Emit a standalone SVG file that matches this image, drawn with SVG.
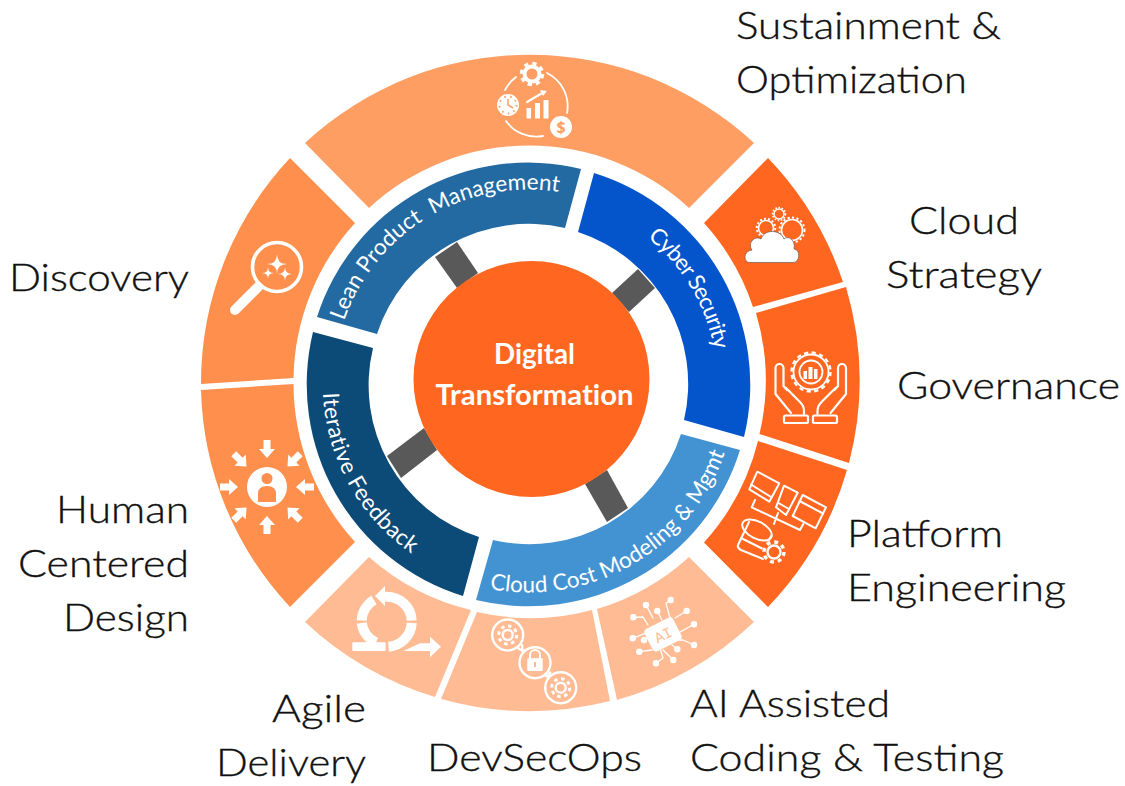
<svg xmlns="http://www.w3.org/2000/svg" width="1125" height="786" viewBox="0 0 1125 786">
<style>
.lbl{font-family:"Lato","Open Sans",sans-serif;font-size:37px;font-weight:300;fill:#111;stroke:#111;stroke-width:.35px}
.seg{font-family:"Lato","Open Sans",sans-serif;font-size:22.5px;fill:#fff;white-space:pre;font-variant-ligatures:none}
.ctr{font-family:"Lato","Open Sans",sans-serif;font-size:28px;font-weight:700;fill:#fff;font-variant-ligatures:none}
.wf{fill:#fff;stroke:none}
.wl{fill:none;stroke:#fff;stroke-width:2.2;stroke-linecap:round;stroke-linejoin:round}
.spoke{fill:#595959}
</style>
<defs>
<path id="ar" class="wf" d="M-3.5,-47H3.5V-38H8L0,-29L-8,-38H-3.5Z"/>
<path id="p1" d="M344.1,321A195,195 0 0 1 569,193.8"/>
<path id="p2" d="M647.5,237.6A189,189 0 0 1 716.8,368"/>
<path id="p3" d="M489.5,588.8A208,208 0 0 0 726.3,448.8"/>
<path id="p4" d="M323,393A205,205 0 0 0 415,556"/>
</defs>
<rect width="1125" height="786" fill="#fff"/>

<g id="connectors">
<polygon class="spoke" points="435,257 457,242 478,273 457,288"/>
<polygon class="spoke" points="612,293 638,269 655,288 629,312"/>
<polygon class="spoke" points="387,456 424,428 437,450 401,478"/>
<polygon class="spoke" points="585,484 607,470 628,508 607,522"/>
</g>

<g id="node-sustainment">
<path fill="#FF9E63" d="M305,143A329.5,329.5 0 0 1 754,143L689,208A236,236 0 0 0 369,208Z"/>
<circle cx="532" cy="74" r="7.5" fill="none" stroke="#fff" stroke-width="4"/>
<circle cx="532" cy="74" r="10.5" fill="none" stroke="#fff" stroke-width="3.5" stroke-dasharray="4.2 4.05"/>
<path class="wl" d="M505,90A37,37 0 0 1 516,77M547,73A37,37 0 0 1 567,113M506,121A37,37 0 0 0 543,136" style="stroke-width:1.8"/>
<circle class="wf" cx="508" cy="105" r="11"/>
<circle cx="508" cy="105" r="8.5" fill="none" stroke="#FF9E63" stroke-width="2" stroke-dasharray="1.5 4.5"/>
<path d="M508,99V105L513,108" fill="none" stroke="#FF9E63" stroke-width="1.5"/>
<rect class="wf" x="526.5" y="108" width="4.5" height="10.5"/>
<rect class="wf" x="535" y="103" width="5" height="15.5"/>
<rect class="wf" x="543.5" y="100" width="5" height="18.5"/>
<path class="wl" d="M527,102L544,92"/>
<polygon class="wf" points="547,91 540,90 543,96"/>
<circle class="wf" cx="561" cy="127" r="11"/>
<text x="561" y="133" text-anchor="middle" font-family="Open Sans,sans-serif" font-size="16" font-weight="700" fill="#FF9E63">$</text>
<text class="lbl" x="736" y="39" textLength="265" lengthAdjust="spacingAndGlyphs">Sustainment &amp;</text>
<text class="lbl" x="736" y="93" textLength="231" lengthAdjust="spacingAndGlyphs">Optimization</text>
</g>

<g id="node-cloud-strategy">
<path fill="#FF6720" d="M768,158A329.5,329.5 0 0 1 843,282L753,307A236,236 0 0 0 704,223Z"/>
<g fill="none" stroke="#fff">
<circle cx="766" cy="228" r="7.5" stroke-width="1.6"/>
<circle cx="766" cy="228" r="9.2" stroke-width="2" stroke-dasharray="2 2.1"/>
<circle cx="792" cy="230" r="10.5" stroke-width="1.6"/>
<circle cx="792" cy="230" r="12.5" stroke-width="2" stroke-dasharray="2.2 2.3"/>
<circle cx="779" cy="214" r="5" stroke-width="1.4"/>
<circle cx="779" cy="214" r="6.4" stroke-width="1.6" stroke-dasharray="1.6 1.6"/>
</g>
<path fill="#fff" stroke="#6b5a52" stroke-width=".7" d="M750,262.5H793C800,262.5 801,250 794,249C796,240 788,235 784,239C781,230 765,228 761,239C755,235 747,243 752,250C743,251 743,262.5 750,262.5Z"/>
<text class="lbl" x="909" y="234" textLength="110" lengthAdjust="spacingAndGlyphs">Cloud</text>
<text class="lbl" x="886" y="288" textLength="156" lengthAdjust="spacingAndGlyphs">Strategy</text>
</g>

<g id="node-governance">
<path fill="#FF6720" d="M756,313L846,287A329.5,329.5 0 0 1 849,463L759.5,434A236,236 0 0 0 756,313Z"/>
<circle cx="811" cy="372" r="17.5" fill="none" stroke="#fff" stroke-width="1.8"/>
<circle cx="811" cy="372" r="19.5" fill="none" stroke="#fff" stroke-width="2.4" stroke-dasharray="4.2 3.46"/>
<circle cx="811" cy="372" r="11.5" fill="none" stroke="#fff" stroke-width="1.8"/>
<rect class="wf" x="803.5" y="371" width="3.5" height="8"/><rect class="wf" x="808.5" y="367" width="4" height="12"/><rect class="wf" x="814" y="369" width="3.5" height="10"/>
<path class="wl" d="M775.5,368A4,4 0 0 1 783.5,368V386L787,390M786,388L800,402Q804,406 804,411V414M775.5,368V394L791,413"/>
<path class="wl" d="M846,368A4,4 0 0 0 838,368V386L834.5,390M835.5,388L821.5,402Q817.5,406 817.5,411V414M846,368V394L830.5,413"/>
<rect x="784" y="415.5" width="24" height="7.5" rx="1.5" class="wl"/>
<rect x="813" y="415.5" width="24" height="7.5" rx="1.5" class="wl"/>
<text class="lbl" x="897" y="399" textLength="223" lengthAdjust="spacingAndGlyphs">Governance</text>
</g>

<g id="node-platform">
<path fill="#FF6720" d="M758,441L847,470A329.5,329.5 0 0 1 768,607L704,542.5A236,236 0 0 0 758,441Z"/>
<g class="wl" style="stroke-width:2">
<polygon points="757.3,471.7 779.3,483.3 769.3,501.7 749.3,489.3"/>
<path d="M751,484.5L771,497"/>
<polygon points="784,485.7 797.7,492.7 786,515 776,507.3"/>
<path d="M778.5,503L788,508.5"/>
<polygon points="802.7,495 826,507.3 815.7,528.3 792.7,516"/>
<path d="M799.5,501L823,513.5"/>
<path d="M755,500L751.7,507.3L800,530L803.3,524M778,513L774,524"/>
<ellipse cx="757" cy="530" rx="16" ry="8.5" transform="rotate(27 757 530)"/>
<path d="M749,522L738,545Q737,548 741,550L763,559M741,538L763,549M771,536L767,544"/>
</g>
<circle cx="774" cy="552" r="12" fill="#FF6720"/>
<circle cx="774" cy="552" r="6.5" fill="none" stroke="#fff" stroke-width="2.4"/>
<circle cx="774" cy="552" r="10" fill="none" stroke="#fff" stroke-width="3.4" stroke-dasharray="3.9 3.95"/>
<text class="lbl" x="847" y="547" textLength="156" lengthAdjust="spacingAndGlyphs">Platform</text>
<text class="lbl" x="847" y="601" textLength="219" lengthAdjust="spacingAndGlyphs">Engineering</text>
</g>

<g id="node-ai">
<path fill="#FFBC94" d="M597,609A236,236 0 0 0 689,557L754,622A329.5,329.5 0 0 1 617,700Z"/>
<g class="wl" style="stroke-width:1.3">
<path d="M646,605L653,618M657.3,611L662,620M670.7,600L666,603.3L670,618M686.7,611L675,618M694,624.3L680,632M694,645L683,640L675,640M677.3,649.3L672,645M673.3,660L663,650M656,663.3L663,658L660,648M639.3,651.7L652,650M644,640L650,636.7M632.7,638.3L645,633.3M633.3,617.3L643,617L648,625"/>
</g>
<rect class="wf" x="647" y="622" width="32" height="25" rx="4" transform="rotate(-27 663 634.5)"/>
<text x="663" y="640" text-anchor="middle" font-family="Liberation Mono,monospace" font-size="15" fill="#FFBC94" transform="rotate(-27 663 634.5)">AI</text>
<g class="wf">
<circle cx="646" cy="605" r="3.2"/><circle cx="657.3" cy="611" r="3.2"/><circle cx="670.7" cy="600" r="3.2"/><circle cx="686.7" cy="611" r="3.2"/><circle cx="694" cy="624.3" r="3.2"/><circle cx="694" cy="645" r="3.2"/><circle cx="677.3" cy="649.3" r="3.2"/><circle cx="673.3" cy="660" r="3.2"/><circle cx="656" cy="663.3" r="3.2"/><circle cx="639.3" cy="651.7" r="3.2"/><circle cx="644" cy="640" r="3.2"/><circle cx="632.7" cy="638.3" r="3.2"/><circle cx="633.3" cy="617.3" r="3.2"/>
</g>
<text class="lbl" x="690" y="717" textLength="200" lengthAdjust="spacingAndGlyphs">AI Assisted</text>
<text class="lbl" x="690" y="771" textLength="314" lengthAdjust="spacingAndGlyphs">Coding &amp; Testing</text>
</g>

<g id="node-devsecops">
<path fill="#FFBC94" d="M477,612A236,236 0 0 0 592,610L610,701A329.5,329.5 0 0 1 441,699Z"/>
<g fill="none" stroke="#fff" stroke-width="2.4">
<circle cx="507.7" cy="635" r="15.5"/>
<circle cx="535" cy="662.7" r="15.5"/>
<circle cx="560.7" cy="687.7" r="15.5"/>
<path d="M517,647Q522,652 526,650M522,644Q522,649 523,654M544,675Q549,678 551,675M551,672Q547,675 548,680"/>
<circle cx="507.7" cy="635" r="5"/><circle cx="507.7" cy="635" r="9" stroke-width="3" stroke-dasharray="3.5 3.57"/>
<circle cx="560.7" cy="687.7" r="5"/><circle cx="560.7" cy="687.7" r="9" stroke-width="3" stroke-dasharray="3.5 3.57"/>
</g>
<rect class="wf" x="527.3" y="658.3" width="15.4" height="12.7" rx="1"/>
<path d="M530,659V655A5,5 0 0 1 540,655V659" fill="none" stroke="#fff" stroke-width="2"/>
<rect x="534" y="662" width="2" height="5" fill="#FFBC94"/>
<text class="lbl" x="427" y="771" textLength="215" lengthAdjust="spacingAndGlyphs">DevSecOps</text>
</g>

<g id="node-agile">
<path fill="#FFBC94" d="M369,557A236,236 0 0 0 471,610L435,697A329.5,329.5 0 0 1 305,622Z"/>
<g fill="none" stroke="#fff" stroke-width="10">
<path d="M361.7,620.5A25,25 0 0 1 374,600"/>
<path d="M385,596.7A25,25 0 0 1 411.7,620.5"/>
<path d="M361.7,623A25,25 0 0 0 376,642.5"/>
<path d="M411.7,623A25,25 0 0 1 388.5,646.7"/>
</g>
<polygon class="wf" points="375,596 385,586 385,606"/>
<rect class="wf" x="352.3" y="642.3" width="33.4" height="8.7" rx="1"/>
<polygon class="wf" points="403.3,651 420,643.3 430,643.3 430,636.7 441,646.7 430,657.3 430,651"/>
<text class="lbl" x="272" y="722" textLength="94" lengthAdjust="spacingAndGlyphs">Agile</text>
<text class="lbl" x="216" y="776" textLength="150" lengthAdjust="spacingAndGlyphs">Delivery</text>
</g>

<g id="node-human">
<path fill="#FF8F4C" d="M201,390L293.5,384A236,236 0 0 0 355,542L290,607A329.5,329.5 0 0 1 201,390Z"/>
<circle class="wf" cx="267" cy="487" r="20"/>
<circle cx="267" cy="478.5" r="5.5" fill="#FF8F4C"/>
<path fill="#FF8F4C" d="M258,502V494Q258,486 267,486Q276,486 276,494V502Z"/>
<use href="#ar" transform="translate(267,487)"/>
<use href="#ar" transform="translate(267,487) rotate(45)"/>
<use href="#ar" transform="translate(267,487) rotate(90)"/>
<use href="#ar" transform="translate(267,487) rotate(135)"/>
<use href="#ar" transform="translate(267,487) rotate(180)"/>
<use href="#ar" transform="translate(267,487) rotate(225)"/>
<use href="#ar" transform="translate(267,487) rotate(270)"/>
<use href="#ar" transform="translate(267,487) rotate(315)"/>
<text class="lbl" x="56" y="523" textLength="133" lengthAdjust="spacingAndGlyphs">Human</text>
<text class="lbl" x="18" y="577" textLength="171" lengthAdjust="spacingAndGlyphs">Centered</text>
<text class="lbl" x="63" y="631" textLength="126" lengthAdjust="spacingAndGlyphs">Design</text>
</g>

<g id="node-discovery">
<path fill="#FF8F4C" d="M290,158L355,223A236,236 0 0 0 293.5,378L201,384A329.5,329.5 0 0 1 290,158Z"/>
<circle cx="277" cy="267" r="24.5" fill="none" stroke="#fff" stroke-width="3.6"/>
<path d="M258,287L235,310" fill="none" stroke="#fff" stroke-width="10" stroke-linecap="round"/>
<path d="M259,283L254,288" fill="none" stroke="#fff" stroke-width="4"/>
<path class="wf" d="M277,254Q277,264 287,264Q277,264 277,274Q277,264 267,264Q277,264 277,254Z"/>
<path class="wf" d="M268,267Q268,273 274,273Q268,273 268,279Q268,273 262,273Q268,273 268,267Z"/>
<path class="wf" d="M285,267Q285,274 292,274Q285,274 285,281Q285,274 278,274Q285,274 285,267Z"/>
<text class="lbl" x="9" y="291" textLength="180" lengthAdjust="spacingAndGlyphs">Discovery</text>
</g>

<g id="node-lean">
<path fill="#236AA3" d="M317,317A221.5,221.5 0 0 1 581,169L565,228A159.5,159.5 0 0 0 377,334Z"/>
<text class="seg"><textPath href="#p1" textLength="272">Lean Product  Management</textPath></text>
</g>
<g id="node-cyber">
<path fill="#0455CC" d="M594,173A221.5,221.5 0 0 1 744,437L684,420A159.5,159.5 0 0 0 578,232Z"/>
<text class="seg"><textPath href="#p2" textLength="133">Cyber Security</textPath></text>
</g>
<g id="node-cloud-cost">
<path fill="#4393D3" d="M681,434L740,450A221.5,221.5 0 0 1 476,600L493,540A159.5,159.5 0 0 0 681,434Z"/>
<text class="seg"><textPath href="#p3" textLength="296">Cloud Cost Modeling &amp; Mgmt</textPath></text>
</g>
<g id="node-iterative">
<path fill="#0C4A78" d="M313,332L373,348A159.5,159.5 0 0 0 479,537L463,596A221.5,221.5 0 0 1 313,332Z"/>
<text class="seg"><textPath href="#p4" textLength="190">Iterative Feedback</textPath></text>
</g>

<g id="node-center">
<circle cx="531.5" cy="379" r="118" fill="#FF6720"/>
<text class="ctr" x="534.5" y="364" text-anchor="middle" textLength="81" lengthAdjust="spacingAndGlyphs">Digital</text>
<text class="ctr" x="534.5" y="405" text-anchor="middle" textLength="198" lengthAdjust="spacingAndGlyphs">Transformation</text>
</g>
</svg>
